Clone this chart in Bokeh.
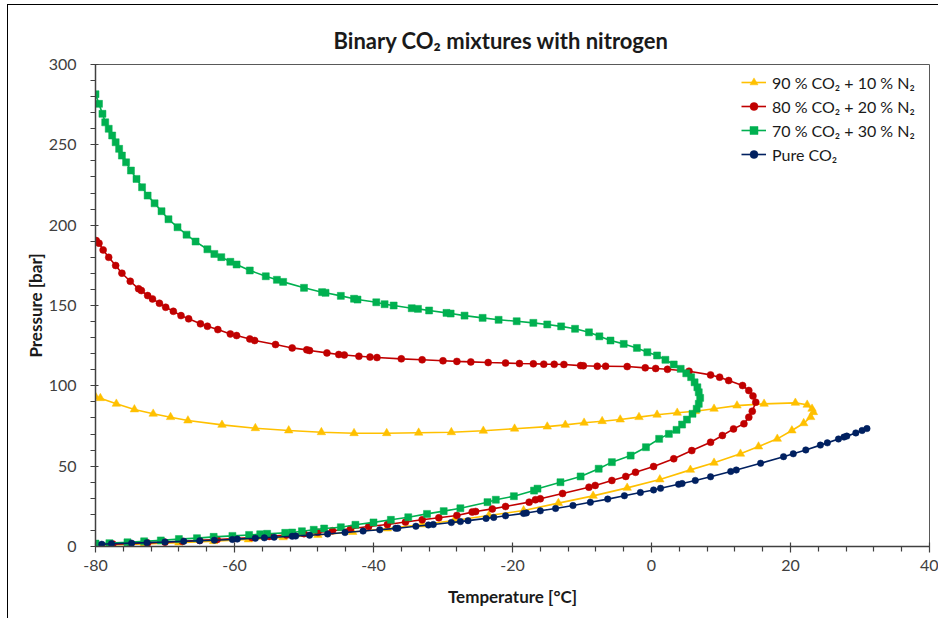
from bokeh.plotting import figure
from bokeh.models import Legend, LegendItem, Range1d, FixedTicker, PrintfTickFormatter
from bokeh.embed import file_html
from bokeh.resources import INLINE

# ---------------- data ----------------
series_names = ["90 % CO₂ + 10 % N₂", "80 % CO₂ + 20 % N₂", "70 % CO₂ + 30 % N₂", "Pure CO₂"]

# 90 % CO2 + 10 % N2 (upper branch, then lower branch)
t90 = [-80.0, -79.3, -77.0, -74.4, -71.7, -69.2, -66.7, -61.8, -57.0, -52.2, -47.5, -42.8, -38.1, -33.5,
       -28.8, -24.2, -19.7, -15.0, -12.4, -9.7, -7.1, -4.5, -1.8, 0.8, 3.7, 6.3, 9.0, 12.3, 16.2, 20.7,
       22.4, 23.1, 23.3,
       22.9, 21.9, 20.2, 18.1, 15.4, 12.8, 9.0, 5.6, 1.2, -3.5, -8.4, -13.4, -18.4, -23.4, -28.4, -33.0,
       -38.0, -43.0, -48.0, -53.0, -58.0, -63.0, -68.0, -73.0, -78.0, -80.0]
p90 = [93.2, 92.3, 88.8, 85.3, 82.6, 80.5, 78.4, 75.7, 73.6, 72.2, 71.1, 70.5, 70.5, 70.8,
       71.1, 72.0, 73.3, 74.6, 75.7, 77.0, 78.0, 79.0, 80.5, 82.0, 83.2, 84.2, 85.7, 87.7, 88.8, 89.4,
       88.2, 85.7, 83.6,
       80.5, 76.7, 72.2, 67.0, 62.2, 57.7, 52.1, 47.7, 41.7, 36.5, 31.5, 27.0, 22.4, 19.3, 16.2, 13.7,
       11.2, 9.0, 7.2, 5.7, 4.4, 3.3, 2.4, 1.6, 1.0, 0.8]

# 80 % CO2 + 20 % N2
t80 = [-79.9, -79.5, -78.9, -78.1, -77.1, -76.2, -75.0, -73.8, -73.4, -72.5, -71.8, -70.8, -69.9, -68.8,
       -67.7, -66.6, -64.9, -63.9, -62.4, -60.6, -59.7, -57.8, -57.1, -54.1, -51.7, -49.6, -49.2, -46.7,
       -45.0, -44.2, -42.1, -40.5, -39.5, -36.0, -33.0, -30.0, -28.0, -26.0, -23.5, -21.0, -19.0, -17.0,
       -15.5, -14.0, -12.6, -10.2, -9.8, -7.8, -6.6, -3.5, -0.9, 0.6, 2.3, 5.4, 8.5, 9.8, 11.1, 13.1,
       14.0, 14.6, 15.0,
       14.5, 14.0, 13.3, 11.8, 10.2, 8.5, 5.8, 3.2, 0.3, -2.3, -3.7, -5.7, -8.1, -9.0, -12.8, -16.0,
       -16.7, -17.6, -21.0, -22.9, -25.3, -25.8, -28.0, -30.6, -33.0, -35.4, -38.0, -40.7, -43.3, -45.9,
       -48.0, -50.0, -52.5, -55.0, -57.5, -60.0, -62.5, -65.0, -67.5, -70.0, -72.5, -75.0, -77.5, -80.0]
p80 = [190.4, 188.8, 184.6, 180.0, 174.9, 170.1, 165.1, 160.4, 159.3, 156.2, 154.1, 151.4, 148.9, 146.4,
       143.7, 141.7, 138.6, 137.1, 135.0, 132.3, 131.3, 129.2, 128.2, 125.7, 123.6, 122.4, 122.0, 120.5,
       119.5, 119.2, 118.4, 117.9, 117.6, 116.8, 116.2, 115.6, 115.2, 114.9, 114.5, 114.2, 113.9, 113.7,
       113.5, 113.4, 113.3, 112.6, 112.5, 112.2, 112.2, 112.0, 111.2, 110.8, 110.3, 109.1, 106.8, 105.4,
       103.3, 100.2, 97.1, 93.7, 89.8,
       84.2, 80.5, 76.4, 73.2, 69.1, 64.9, 59.7, 54.6, 49.8, 46.2, 43.6, 41.1, 38.0, 36.9, 33.0, 29.7,
       29.1, 27.6, 24.9, 23.4, 21.8, 21.4, 19.3, 17.9, 16.6, 15.2, 13.7, 12.4, 11.0, 9.8,
       8.8, 8.0, 7.1, 6.3, 5.6, 5.0, 4.4, 3.8, 3.2, 2.7, 2.2, 1.8, 1.5, 1.2]

# 70 % CO2 + 30 % N2
t70 = [-80.0, -79.5, -79.0, -78.6, -78.1, -77.6, -77.1, -76.6, -76.2, -75.6, -74.9, -74.1, -73.3, -72.5,
       -71.5, -70.5, -69.5, -68.2, -66.9, -65.6, -63.9, -62.9, -61.9, -60.6, -59.7, -57.8, -55.5, -53.9,
       -53.0, -50.0, -47.4, -46.9, -44.7, -42.8, -42.3, -39.6, -38.4, -37.1, -34.5, -33.6, -32.0, -29.5,
       -28.9, -26.9, -24.3, -22.0, -19.4, -17.0, -15.0, -13.0, -11.0, -9.0, -7.5, -5.9, -4.0, -2.1, -0.6,
       0.8, 2.0, 3.2, 4.2, 5.0, 5.7, 6.2, 6.6, 6.8,
       7.0, 6.8, 6.5, 5.9, 5.1, 4.4, 3.6, 2.5, 1.1, -0.8, -3.0, -5.7, -7.6, -10.2, -13.1, -16.4, -16.9,
       -19.8, -22.4, -23.6, -27.5, -29.9, -32.3, -35.0, -37.5, -40.0, -42.6, -44.7, -47.1, -48.6, -50.3,
       -51.7, -52.7, -55.3, -56.3, -57.9, -60.3, -63.0, -65.4, -68.0, -70.6, -73.0, -75.4, -78.0, -80.0]
p70 = [281.5, 275.5, 269.3, 264.0, 260.0, 255.8, 251.6, 247.5, 243.3, 239.1, 234.0, 228.8, 223.6, 218.4,
       213.6, 208.7, 203.7, 198.7, 194.1, 189.8, 185.0, 182.1, 180.1, 177.2, 175.5, 171.8, 168.2, 166.0,
       164.7, 161.0, 158.3, 157.9, 156.0, 154.2, 153.7, 152.0, 150.8, 150.0, 148.3, 147.9, 146.9, 145.4,
       145.0, 143.7, 142.3, 141.1, 140.2, 139.2, 138.2, 137.0, 135.5, 133.3, 130.8, 128.2, 126.1, 123.6,
       120.9, 118.9, 116.2, 113.3, 110.6, 107.8, 105.4, 102.2, 99.1, 96.0,
       92.5, 88.8, 85.7, 82.6, 79.0, 75.9, 72.6, 70.1, 67.0, 61.8, 56.6, 52.5, 48.4, 43.6, 40.0, 36.0, 34.8,
       31.3, 29.1, 27.6, 23.8, 22.0, 20.3, 18.2, 16.6, 15.0, 13.5, 12.0, 11.2, 10.4, 9.5,
       8.7, 8.5, 7.9, 7.6, 7.2, 6.6, 6.0, 5.2, 4.6, 3.8, 3.2, 2.6, 2.1, 1.8]

# Pure CO2
t100 = [-79.1, -77.7, -74.8, -72.6, -70.0, -67.3, -65.0, -62.9, -60.3, -59.6, -57.0, -55.7, -54.3, -51.7,
        -51.2, -49.2, -46.6, -44.1, -41.5, -39.1, -36.8, -36.5, -33.9, -32.1, -31.4, -28.8, -27.5, -26.4,
        -23.8, -22.7, -21.0, -18.4, -18.0, -16.0, -13.8, -11.3, -8.8, -6.3, -3.9, -1.6, 0.3, 1.3, 3.9, 4.4,
        6.3, 8.5, 11.4, 12.2, 15.7, 19.0, 20.4, 22.2, 24.3, 25.3, 26.9, 27.7, 28.1, 29.4, 30.3, 31.0]
p100 = [1.4, 1.7, 2.1, 2.4, 2.8, 3.3, 3.6, 3.9, 4.4, 4.6, 5.1, 5.4, 5.8, 6.4,
        6.5, 7.0, 7.8, 8.7, 9.6, 10.4, 11.3, 11.4, 12.6, 13.4, 13.7, 14.9, 15.5, 16.1,
        17.5, 18.1, 19.1, 20.6, 20.9, 22.2, 23.7, 25.5, 27.5, 29.5, 31.6, 33.6, 35.2, 36.2, 38.7, 39.2,
        41.1, 43.4, 46.7, 47.6, 51.8, 55.9, 57.7, 60.1, 63.1, 64.5, 66.9, 68.1, 68.7, 70.7, 72.2, 73.4]

x_ticks = [-80, -60, -40, -20, 0, 20, 40]
y_ticks = [0, 50, 100, 150, 200, 250, 300]

# ---------------- figure ----------------
FONT = "Lato"
TXT = "#404040"
AX = "#404040"

# figure sits 8 px right / 5 px down inside an outer chart border drawn with CSS
p = figure(width=931, height=614, x_range=Range1d(-80, 40), y_range=Range1d(0, 300),
           output_backend="svg", toolbar_location=None,
           min_border_left=87, min_border_right=10, min_border_top=59, min_border_bottom=73)
p.styles = {"border-left": "1.5px solid #000000", "border-top": "1px solid #000000",
            "margin-left": "7px", "margin-top": "4px"}
p.background_fill_color = "white"
p.border_fill_color = "white"
p.outline_line_color = "#595959"
p.outline_line_width = 1
p.xgrid.visible = False
p.ygrid.visible = False

p.title.text = "Binary CO₂ mixtures with nitrogen"
p.title.align = "left"
p.title.offset = 238
p.title.text_font = FONT
p.title.text_font_size = "22px"
p.title.text_font_style = "bold"
p.title.text_color = "#1a1a1a"
p.title.standoff = 22

minor_x = [v for v in range(-80, 41, 4) if v not in x_ticks]
minor_y = [v for v in range(0, 301, 10) if v not in y_ticks]
p.xaxis.ticker = FixedTicker(ticks=x_ticks, minor_ticks=minor_x)
p.yaxis.ticker = FixedTicker(ticks=y_ticks, minor_ticks=minor_y)
p.xaxis.formatter = PrintfTickFormatter(format="%d")
p.yaxis.formatter = PrintfTickFormatter(format="%d")

for ax in (p.xaxis, p.yaxis):
    ax.axis_line_color = AX
    ax.axis_line_width = 1.5
    ax.major_tick_line_color = AX
    ax.minor_tick_line_color = AX
    ax.major_tick_line_width = 1.2
    ax.minor_tick_line_width = 1.2
    ax.major_label_text_font = FONT
    ax.major_label_text_font_size = "16px"
    ax.major_label_text_color = TXT
    ax.axis_label_text_font = FONT
    ax.axis_label_text_font_size = "17px"
    ax.axis_label_text_font_style = "bold"
    ax.axis_label_text_color = "#1a1a1a"

p.xaxis.major_tick_in = 4
p.xaxis.major_tick_out = 6
p.xaxis.minor_tick_in = 0
p.xaxis.minor_tick_out = 5
p.yaxis.major_tick_in = 3
p.yaxis.major_tick_out = 5
p.yaxis.minor_tick_in = 0
p.yaxis.minor_tick_out = 5
p.xaxis.major_label_standoff = 7
p.yaxis.major_label_standoff = 14
p.xaxis.axis_label = "Temperature [°C]"
p.yaxis.axis_label = "Pressure [bar]"
p.xaxis.axis_label_standoff = 12
p.yaxis.axis_label_standoff = 0

colors = ["#FFC000", "#C00000", "#00B050", "#002060"]
markers = ["triangle", "circle", "square", "circle"]
sizes = [8.5, 7, 7, 6.5]
data = [(t90, p90), (t80, p80), (t70, p70), (t100, p100)]

items = []
for name, (tx, py), col, mk, sz in zip(series_names, data, colors, markers, sizes):
    lr = p.line(tx, py, line_color=col, line_width=1.6)
    sr = p.scatter(tx, py, marker=mk, size=sz, fill_color=col, line_color=col, line_width=0.5)
    items.append(LegendItem(label=name, renderers=[lr, sr]))

legend = Legend(items=items, location=(646, 382), orientation="vertical",
                label_text_font=FONT, label_text_font_size="16px", label_text_color="#1a1a1a",
                glyph_width=25, glyph_height=20, label_height=20, spacing=4, padding=0, margin=0,
                label_standoff=6, border_line_color=None, background_fill_alpha=0)
p.add_layout(legend, "center")

open("out.html", "w").write(file_html(p, INLINE))
